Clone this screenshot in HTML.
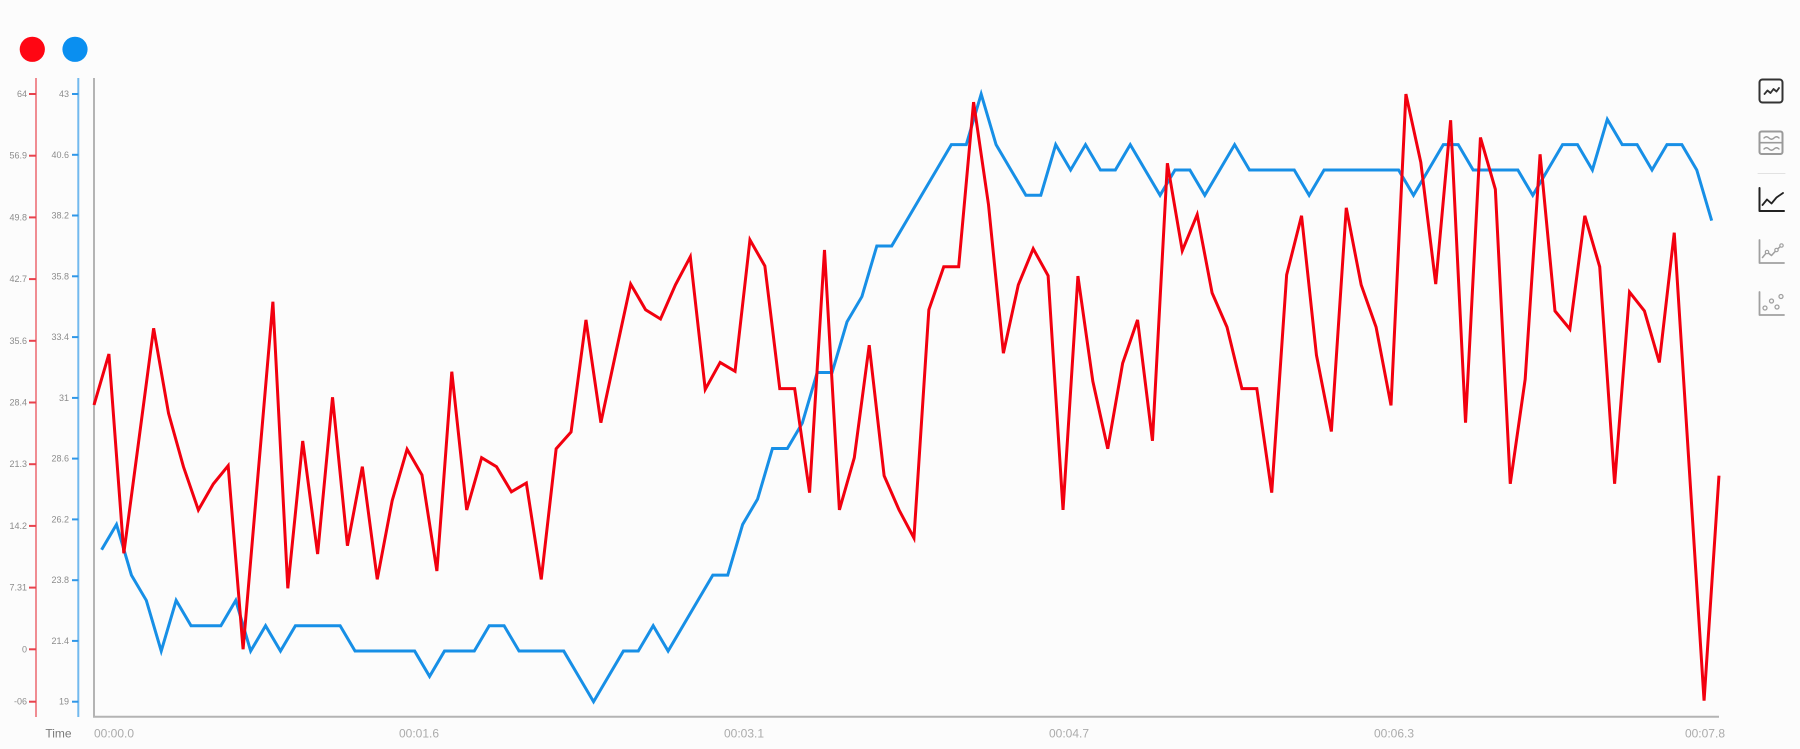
<!DOCTYPE html>
<html>
<head>
<meta charset="utf-8">
<style>
  html,body{margin:0;padding:0;background:#fcfcfc;}
  svg{display:block;}
  text{font-family:"Liberation Sans",sans-serif;}
</style>
</head>
<body>
<svg width="1800" height="749" viewBox="0 0 1800 749" xmlns="http://www.w3.org/2000/svg">
  <rect x="0" y="0" width="1800" height="749" fill="#fcfcfc"/>

  <!-- legend dots -->
  <circle cx="32.3" cy="49.3" r="12.6" fill="#ff0613"/>
  <circle cx="75" cy="49.3" r="12.6" fill="#0a8ff0"/>

  <!-- red axis -->
  <line x1="36" y1="78" x2="36" y2="717" stroke="#f08c92" stroke-width="2"/>
  <g stroke="#e8424c" stroke-width="2">
    <line x1="29" y1="94" x2="36" y2="94"/>
    <line x1="29" y1="155.7" x2="36" y2="155.7"/>
    <line x1="29" y1="217.4" x2="36" y2="217.4"/>
    <line x1="29" y1="279.1" x2="36" y2="279.1"/>
    <line x1="29" y1="340.8" x2="36" y2="340.8"/>
    <line x1="29" y1="402.5" x2="36" y2="402.5"/>
    <line x1="29" y1="464.2" x2="36" y2="464.2"/>
    <line x1="29" y1="525.9" x2="36" y2="525.9"/>
    <line x1="29" y1="587.6" x2="36" y2="587.6"/>
    <line x1="29" y1="649.3" x2="36" y2="649.3"/>
    <line x1="29" y1="701.7" x2="36" y2="701.7"/>
  </g>
  <g font-size="9" fill="#8c8c8c" text-anchor="end" dominant-baseline="central">
    <text x="27" y="94">64</text>
    <text x="27" y="155.7">56.9</text>
    <text x="27" y="217.4">49.8</text>
    <text x="27" y="279.1">42.7</text>
    <text x="27" y="340.8">35.6</text>
    <text x="27" y="402.5">28.4</text>
    <text x="27" y="464.2">21.3</text>
    <text x="27" y="525.9">14.2</text>
    <text x="27" y="587.6">7.31</text>
    <text x="27" y="649.3">0</text>
    <text x="27" y="701.7">-06</text>
  </g>

  <!-- blue axis -->
  <line x1="78.3" y1="78" x2="78.3" y2="717" stroke="#72b9ee" stroke-width="2"/>
  <g stroke="#2f97e8" stroke-width="2">
    <line x1="72" y1="94" x2="78.3" y2="94"/>
    <line x1="72" y1="154.8" x2="78.3" y2="154.8"/>
    <line x1="72" y1="215.5" x2="78.3" y2="215.5"/>
    <line x1="72" y1="276.3" x2="78.3" y2="276.3"/>
    <line x1="72" y1="337.1" x2="78.3" y2="337.1"/>
    <line x1="72" y1="397.9" x2="78.3" y2="397.9"/>
    <line x1="72" y1="458.6" x2="78.3" y2="458.6"/>
    <line x1="72" y1="519.4" x2="78.3" y2="519.4"/>
    <line x1="72" y1="580.2" x2="78.3" y2="580.2"/>
    <line x1="72" y1="640.9" x2="78.3" y2="640.9"/>
    <line x1="72" y1="701.7" x2="78.3" y2="701.7"/>
  </g>
  <g font-size="9" fill="#8c8c8c" text-anchor="end" dominant-baseline="central">
    <text x="69" y="94">43</text>
    <text x="69" y="154.8">40.6</text>
    <text x="69" y="215.5">38.2</text>
    <text x="69" y="276.3">35.8</text>
    <text x="69" y="337.1">33.4</text>
    <text x="69" y="397.9">31</text>
    <text x="69" y="458.6">28.6</text>
    <text x="69" y="519.4">26.2</text>
    <text x="69" y="580.2">23.8</text>
    <text x="69" y="640.9">21.4</text>
    <text x="69" y="701.7">19</text>
  </g>

  <!-- plot axes -->
  <line x1="94" y1="78" x2="94" y2="717" stroke="#b4b4b4" stroke-width="2"/>
  <line x1="93" y1="716.8" x2="1719" y2="716.8" stroke="#b4b4b4" stroke-width="2"/>

  <!-- x labels -->
  <text x="58.5" y="737.5" font-size="12" fill="#7a7a7a" text-anchor="middle">Time</text>
  <g font-size="12" fill="#ababab">
    <text x="94" y="737.5" text-anchor="start">00:00.0</text>
    <text x="419" y="737.5" text-anchor="middle">00:01.6</text>
    <text x="744" y="737.5" text-anchor="middle">00:03.1</text>
    <text x="1069" y="737.5" text-anchor="middle">00:04.7</text>
    <text x="1394" y="737.5" text-anchor="middle">00:06.3</text>
    <text x="1725" y="737.5" text-anchor="end">00:07.8</text>
  </g>

  <!-- blue series -->
  <g transform="translate(101.6,1182.78) scale(14.908,-25.32)">
    <polyline fill="none" stroke="#178fe6" stroke-width="3" vector-effect="non-scaling-stroke" stroke-linejoin="miter"
      points="0,25 1,26 2,24 3,23 4,21 5,23 6,22 7,22 8,22 9,23 10,21 11,22 12,21 13,22 14,22 15,22 16,22 17,21 18,21 19,21 20,21 21,21 22,20 23,21 24,21 25,21 26,22 27,22 28,21 29,21 30,21 31,21 32,20 33,19 34,20 35,21 36,21 37,22 38,21 39,22 40,23 41,24 42,24 43,26 44,27 45,29 46,29 47,30 48,32 49,32 50,34 51,35 52,37 53,37 54,38 55,39 56,40 57,41 58,41 59,43 60,41 61,40 62,39 63,39 64,41 65,40 66,41 67,40 68,40 69,41 70,40 71,39 72,40 73,40 74,39 75,40 76,41 77,40 78,40 79,40 80,40 81,39 82,40 83,40 84,40 85,40 86,40 87,40 88,39 89,40 90,41 91,41 92,40 93,40 94,40 95,40 96,39 97,40 98,41 99,41 100,40 101,42 102,41 103,41 104,40 105,41 106,41 107,40 108,38"/>
  </g>

  <!-- red series -->
  <g transform="translate(94,0) scale(14.908,1)">
    <polyline fill="none" stroke="#f2000f" stroke-width="3" vector-effect="non-scaling-stroke" stroke-linejoin="miter"
      points="0,405 1,354 2,553.3 3,441 4,328.3 5,413.3 6,466.7 7,510 8,484 9,465.7 10,649.3 11,475 12,301.7 13,588.3 14,441 15,554 16,397.3 17,545.7 18,466.7 19,579.3 20,500.7 21,449.3 22,475 23,571 24,371.7 25,510 26,457.7 27,466.7 28,491.8 29,483 30,579.4 31,448.8 32,432 33,319.9 34,422.7 35,353 36,284.1 37,309.8 38,319 39,284.9 40,256.8 41,389.4 42,362.4 43,371.3 44,239.9 45,266 46,388.6 47,388.6 48,492.6 49,250 50,509.9 51,457.7 52,345.2 53,475.7 54,509.9 55,538 56,309.8 57,266.8 58,266.8 59,102.1 60,204.5 61,353.2 62,284.9 63,248.7 64,275.7 65,509.9 66,276.1 67,381.3 68,448.8 69,363.2 70,319.9 71,440.8 72,163.2 73,250.7 74,214.6 75,292.9 76,327.1 77,388.6 78,388.6 79,492.6 80,274.9 81,215.8 82,355.2 83,431.5 84,207.8 85,284.9 86,327.1 87,405.4 88,94.1 89,162.4 90,284.1 91,120.2 92,422.7 93,137.5 94,189.3 95,483.8 96,379.3 97,154.3 98,311 99,329.1 100,215.8 101,266.8 102,483.8 103,292.1 104,311 105,362.4 106,232.7 107,466.5 108,700.7 109,475.7"/>
  </g>

  <!-- toolbar icons -->
  <g fill="none" stroke-linecap="round" stroke-linejoin="round">
    <rect x="1759.5" y="79.5" width="23" height="23" rx="3" stroke="#333" stroke-width="2"/>
    <polyline points="1764.5,94 1767.5,90.5 1770.5,93 1773.5,89 1776.5,91.5 1779,88" stroke="#333" stroke-width="1.8"/>

    <rect x="1759.5" y="131.5" width="23" height="22.5" rx="2" stroke="#9a9a9a" stroke-width="2"/>
    <line x1="1759.5" y1="142.7" x2="1782.5" y2="142.7" stroke="#9a9a9a" stroke-width="1.6"/>
    <path d="M1764,138 q2.5,-2.5 5,0 t5,0 t5,0" stroke="#9a9a9a" stroke-width="1.4"/>
    <path d="M1764,149 q2.5,-2.5 5,0 t5,0 t5,0" stroke="#9a9a9a" stroke-width="1.4"/>

    <line x1="1758" y1="173.5" x2="1785" y2="173.5" stroke="#e2e2e2" stroke-width="1"/>

    <path d="M1759.5,188 V211 H1784" stroke="#222" stroke-width="2"/>
    <polyline points="1762.5,205 1767,199.5 1771.5,203.5 1776.5,197.5 1783,193" stroke="#222" stroke-width="1.8"/>

    <path d="M1759.5,240 V263 H1784" stroke="#a0a0a0" stroke-width="1.8"/>
    <polyline points="1762.5,257.5 1767,252 1771.5,255.5 1776.5,250 1781.5,245.5" stroke="#a0a0a0" stroke-width="1.5"/>
    <circle cx="1767" cy="252" r="1.7" stroke="#a0a0a0" stroke-width="1.2" fill="#fcfcfc"/>
    <circle cx="1776.5" cy="250" r="1.7" stroke="#a0a0a0" stroke-width="1.2" fill="#fcfcfc"/>
    <circle cx="1781.5" cy="245.5" r="1.7" stroke="#a0a0a0" stroke-width="1.2" fill="#fcfcfc"/>

    <path d="M1759.5,292 V315 H1784" stroke="#a0a0a0" stroke-width="1.8"/>
    <circle cx="1765" cy="308" r="2" stroke="#a0a0a0" stroke-width="1.3"/>
    <circle cx="1771.5" cy="301" r="2" stroke="#a0a0a0" stroke-width="1.3"/>
    <circle cx="1777" cy="307" r="2" stroke="#a0a0a0" stroke-width="1.3"/>
    <circle cx="1781" cy="296.5" r="2" stroke="#a0a0a0" stroke-width="1.3"/>
  </g>
</svg>
</body>
</html>
